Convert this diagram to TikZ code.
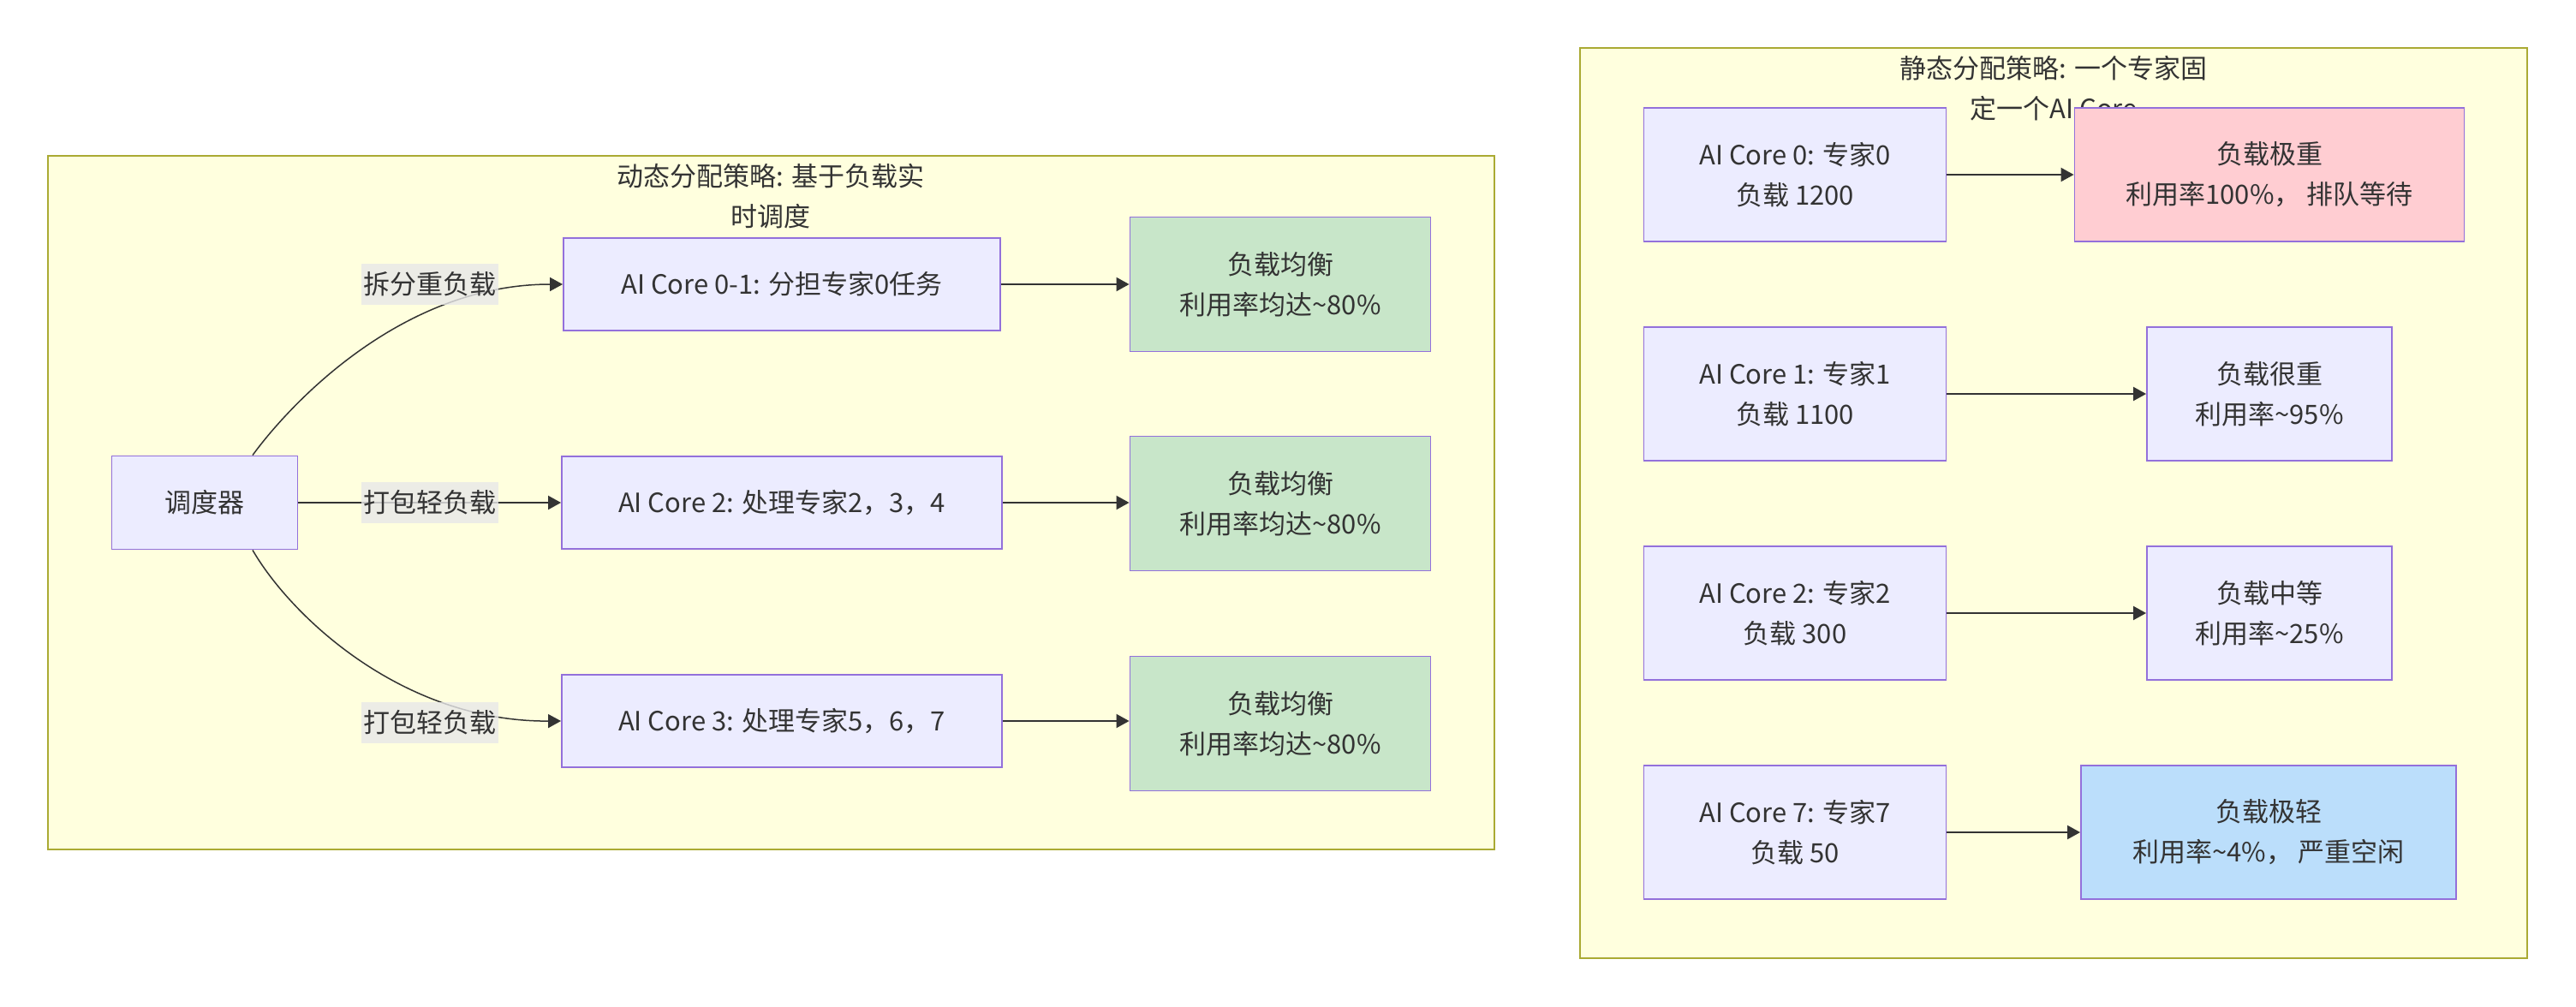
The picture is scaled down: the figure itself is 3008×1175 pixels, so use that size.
\documentclass[tikz,border=0pt]{standalone}
\usepackage{fontspec}
\setmainfont{Noto Sans CJK SC}
\usepackage{xcolor}
\usetikzlibrary{arrows.meta, positioning}

\definecolor{clusterfill}{HTML}{FFFFDE}
\definecolor{clusterline}{HTML}{AAAA33}
\definecolor{nodefill}{HTML}{ECECFF}
\definecolor{nodeline}{HTML}{9370DB}
\definecolor{okgreen}{HTML}{C8E6C9}
\definecolor{hotred}{HTML}{FFCDD2}
\definecolor{coldblue}{HTML}{BBDEFB}
\definecolor{labelgray}{HTML}{E8E8E8}
\definecolor{txtgray}{HTML}{333333}

\tikzset{
    every node/.style={font=\fontsize{31}{47}\selectfont, text=txtgray},
    cluster/.style={draw=clusterline, fill=clusterfill, line width=1.9pt},
    clustertitle/.style={align=center, inner sep=0pt},
    corebox/.style={draw=nodeline, fill=nodefill, line width=1.9pt, inner sep=0pt, align=center},
    edgelab/.style={fill=labelgray, fill opacity=0.8, text opacity=1, inner sep=0pt,
        minimum width=160pt, minimum height=48pt},
    flow/.style={draw=txtgray, line width=2pt, -{Triangle[length=15pt,width=16pt]}}
}

\begin{document}
\begin{tikzpicture}[x=1pt, y=-1pt]
    \useasboundingbox (0,0) rectangle (3008,1175);

    % 动态分配
    \draw[cluster] (56,182) rectangle (1745,992);
    \node[clustertitle] (dyntitle) at (900,229) {动态分配策略: 基于负载实\\时调度};

    \node[corebox, minimum width=217pt, minimum height=109pt] (sched) at (239,587) {调度器};
    \node[corebox, minimum width=510pt, minimum height=108pt] (core01) at (913,332) {AI Core 0-1: 分担专家0任务};
    \node[corebox, minimum width=514pt, minimum height=108pt] (core2) at (913,587) {AI Core 2: 处理专家2，3，4};
    \node[corebox, minimum width=514pt, minimum height=108pt] (core3) at (913,842) {AI Core 3: 处理专家5，6，7};

    \node[corebox, fill=okgreen, minimum width=351pt, minimum height=157pt] (bal1) at (1495,332) {负载均衡\\利用率均达\textasciitilde80\%};
    \node[corebox, fill=okgreen, minimum width=351pt, minimum height=157pt] (bal2) at (1495,588) {负载均衡\\利用率均达\textasciitilde80\%};
    \node[corebox, fill=okgreen, minimum width=351pt, minimum height=157pt] (bal3) at (1495,845) {负载均衡\\利用率均达\textasciitilde80\%};

    % 调度器连线
    \draw[flow, line width=1.5pt] ([xshift=56pt]sched.north) .. controls (340,470) and (470,332) .. (core01.west);
    \draw[flow] (sched.east) -- (core2.west);
    \draw[flow, line width=1.5pt] ([xshift=56pt]sched.south) .. controls (340,720) and (470,843) .. (core3.west);

    \node[edgelab] (lab01) at (502,332) {拆分重负载};
    \node[edgelab] (lab2) at (502,587) {打包轻负载};
    \node[edgelab] (lab3) at (502,844) {打包轻负载};

    \draw[flow] (core01.east) -- (bal1.west);
    \draw[flow] (core2.east) -- (core2.east -| bal2.west);
    \draw[flow] (core3.east) -- (core3.east -| bal3.west);

    % 静态分配
    \draw[cluster] (1845,56) rectangle (2951,1119);
    \node[clustertitle] (stattitle) at (2398,103) {静态分配策略: 一个专家固\\定一个AI Core};

    \node[corebox, minimum width=353pt, minimum height=156pt] (c0) at (2096,204) {AI Core 0: 专家0\\负载 1200};
    \node[corebox, minimum width=353pt, minimum height=156pt] (c1) at (2096,460) {AI Core 1: 专家1\\负载 1100};
    \node[corebox, minimum width=353pt, minimum height=156pt] (c2) at (2096,716) {AI Core 2: 专家2\\负载 300};
    \node[corebox, minimum width=353pt, minimum height=156pt] (c7) at (2096,972) {AI Core 7: 专家7\\负载 50};

    \node[corebox, fill=hotred, minimum width=455pt, minimum height=156pt] (heavy0) at (2650,204) {负载极重\\利用率100\%， 排队等待};
    \node[corebox, minimum width=286pt, minimum height=156pt] (heavy1) at (2650,460) {负载很重\\利用率\textasciitilde95\%};
    \node[corebox, minimum width=286pt, minimum height=156pt] (mid2) at (2650,716) {负载中等\\利用率\textasciitilde25\%};
    \node[corebox, fill=coldblue, minimum width=438pt, minimum height=156pt] (light7) at (2649,972) {负载极轻\\利用率\textasciitilde4\%， 严重空闲};

    \draw[flow] (c0.east) -- (heavy0.west);
    \draw[flow] (c1.east) -- (heavy1.west);
    \draw[flow] (c2.east) -- (mid2.west);
    \draw[flow] (c7.east) -- (light7.west);
\end{tikzpicture}
\end{document}
